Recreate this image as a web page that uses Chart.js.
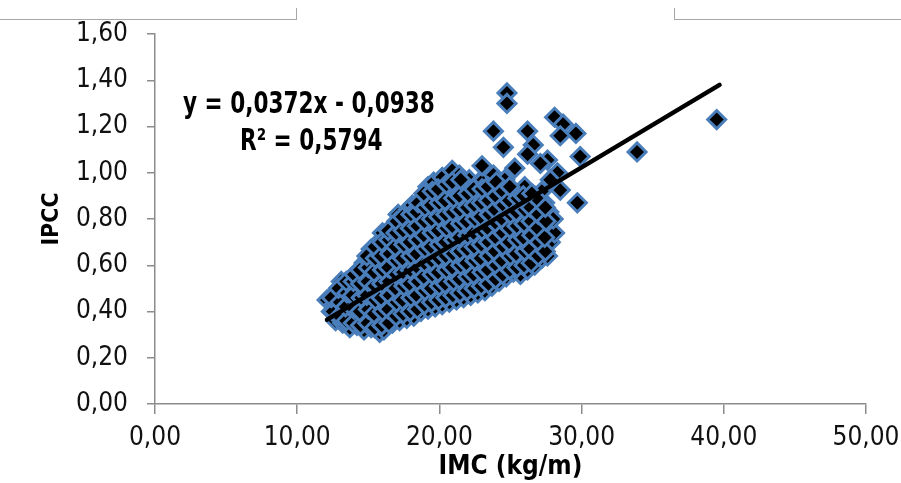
<!DOCTYPE html>
<html>
<head>
<meta charset="utf-8">
<script src="https://cdn.jsdelivr.net/npm/chart.js@4"></script>
<style>
  body { margin: 0; background: #fff; }
  #wrap { position: relative; width: 901px; height: 483px; overflow: hidden; }
  .frame { position: absolute; border-color: #a6a6a6; border-style: solid; border-width: 0; }
  .eq { position: absolute; font-family: "Liberation Sans Narrow", "DejaVu Sans Condensed", sans-serif;
        font-weight: bold; font-size: 30px; line-height: 30px; color: #000; white-space: nowrap;
        transform: scaleX(0.8); transform-origin: left center; }
</style>
</head>
<body>
<div id="wrap">
  <canvas id="imcChart"></canvas>
  <!-- bordas da tabela cortada no topo -->
  <div class="frame" style="left:0;top:8px;width:296px;height:11px;border-bottom-width:1px;border-right-width:1px;"></div>
  <div class="frame" style="left:674px;top:8px;width:227px;height:11px;border-bottom-width:1px;border-left-width:1px;"></div>
  <div class="eq" style="left:183px;top:88px;">y = 0,0372x - 0,0938</div>
  <div class="eq" style="left:240px;top:125px;">R² = 0,5794</div>
</div>
<script>
// IMC (kg/m) x IPCC
const imc = [
  12.1, 12.4,
  12.7, 12.6, 12.9,
  13.2, 13.0, 13.3, 13.1,
  13.7, 13.5, 13.8, 13.6, 13.9,
  14.2, 14.0, 14.3, 14.1, 14.4,
  14.7, 14.5, 14.8, 14.6, 14.9, 14.7,
  15.2, 15.0, 15.3, 15.1, 15.4, 15.0, 15.2,
  15.8, 15.6, 15.9, 15.7, 15.5, 15.8, 15.6, 15.9,
  16.1, 16.3, 16.0, 16.2, 16.4, 16.1, 16.3, 16.0,
  16.7, 16.5, 16.8, 16.6, 16.9, 16.7, 16.5, 16.8,
  17.2, 17.0, 17.3, 17.1, 17.4, 17.2, 17.0, 17.3, 17.1,
  17.7, 17.9, 17.6, 17.8, 17.5, 17.7, 17.9, 17.6, 17.8,
  18.2, 18.0, 18.3, 18.1, 18.4, 18.2, 18.0, 18.3, 18.1,
  18.7, 18.9, 18.6, 18.8, 18.5, 18.7, 18.9, 18.6, 18.8,
  19.2, 19.0, 19.3, 19.1, 19.4, 19.2, 19.0, 19.3, 19.1, 19.2,
  19.7, 19.9, 19.6, 19.8, 19.5, 19.7, 19.9, 19.6, 19.8, 19.6,
  20.2, 20.0, 20.3, 20.1, 20.4, 20.2, 20.0, 20.3, 20.1, 20.2,
  20.7, 20.9, 20.6, 20.8, 20.5, 20.7, 20.9, 20.6, 20.8, 20.9,
  21.2, 21.0, 21.3, 21.1, 21.4, 21.2, 21.0, 21.3, 21.1, 21.4,
  21.7, 21.9, 21.6, 21.8, 21.5, 21.7, 21.9, 21.6, 21.8,
  22.2, 22.0, 22.3, 22.1, 22.4, 22.2, 22.0, 22.3, 22.1,
  22.7, 22.9, 22.6, 22.8, 22.5, 22.7, 22.9, 22.6, 22.8,
  23.2, 23.0, 23.3, 23.1, 23.4, 23.2, 23.0, 23.3, 23.1,
  23.7, 23.9, 23.6, 23.8, 23.5, 23.7, 23.9, 23.6, 23.8,
  24.2, 24.0, 24.3, 24.1, 24.4, 24.2, 24.0, 24.3,
  24.7, 24.9, 24.6, 24.8, 24.5, 24.7, 24.9, 24.6,
  25.2, 25.0, 25.3, 25.1, 25.4, 25.2, 25.0,
  25.7, 25.9, 25.6, 25.8, 25.5, 25.7, 25.9,
  26.2, 26.0, 26.3, 26.1, 26.4, 26.2, 26.0,
  26.7, 26.9, 26.6, 26.8, 26.5, 26.7,
  27.2, 27.0, 27.3, 27.1, 27.4, 27.2,
  27.6, 27.8, 27.5, 27.7,
  28.1, 28.0,
  // pontos intermediários
  12.5, 12.4,
  12.95, 13.0, 12.9,
  13.45, 13.4, 13.5, 13.45,
  13.95, 14.0, 13.9, 13.95, 14.0,
  14.45, 14.4, 14.5, 14.45, 14.4,
  14.95, 15.0, 14.9, 14.95, 15.0, 14.9,
  15.45, 15.4, 15.5, 15.45, 15.4, 15.5, 15.45,
  15.95, 16.0, 15.9, 15.95, 16.0, 15.9, 15.95,
  16.45, 16.4, 16.5, 16.45, 16.4, 16.5, 16.45, 16.4,
  16.95, 17.0, 16.9, 16.95, 17.0, 16.9, 16.95, 17.0,
  17.45, 17.4, 17.5, 17.45, 17.4, 17.5, 17.45, 17.4,
  17.95, 18.0, 17.9, 17.95, 18.0, 17.9, 17.95, 18.0,
  18.45, 18.4, 18.5, 18.45, 18.4, 18.5, 18.45, 18.4, 18.5,
  18.95, 19.0, 18.9, 18.95, 19.0, 18.9, 18.95, 19.0, 18.9,
  19.45, 19.4, 19.5, 19.45, 19.4, 19.5, 19.45, 19.4, 19.5,
  19.95, 20.0, 19.9, 19.95, 20.0, 19.9, 19.95, 20.0, 19.9,
  20.45, 20.4, 20.5, 20.45, 20.4, 20.5, 20.45, 20.4, 20.5,
  20.95, 21.0, 20.9, 20.95, 21.0, 20.9, 20.95, 21.0, 20.9,
  21.45, 21.4, 21.5, 21.45, 21.4, 21.5, 21.45, 21.4, 21.5,
  21.95, 22.0, 21.9, 21.95, 22.0, 21.9, 21.95, 22.0,
  22.45, 22.4, 22.5, 22.45, 22.4, 22.5, 22.45, 22.4,
  22.95, 23.0, 22.9, 22.95, 23.0, 22.9, 22.95, 23.0,
  23.45, 23.4, 23.5, 23.45, 23.4, 23.5, 23.45, 23.4,
  23.95, 24.0, 23.9, 23.95, 24.0, 23.9, 23.95, 24.0,
  24.45, 24.4, 24.5, 24.45, 24.4, 24.5, 24.45,
  24.95, 25.0, 24.9, 24.95, 25.0, 24.9, 24.95,
  25.45, 25.4, 25.5, 25.45, 25.4, 25.5,
  25.95, 26.0, 25.9, 25.95, 26.0, 25.9,
  26.45, 26.4, 26.5, 26.45, 26.4, 26.5,
  26.95, 27.0, 26.9, 26.95, 27.0,
  27.45, 27.4, 27.5, 27.45,
  // pontos afastados
  24.75, 24.75, 23.8, 24.5, 26.2, 26.6, 26.2, 28.1, 28.7, 29.6, 28.5,
  27.6, 29.9, 29.7, 28.5, 27.1, 28.3, 27.8, 25.3, 23.0, 33.9, 39.5
];
const ipcc = [
  0.45, 0.40,
  0.36, 0.43, 0.49,
  0.35, 0.41, 0.47, 0.53,
  0.33, 0.38, 0.44, 0.50, 0.55,
  0.34, 0.39, 0.45, 0.52, 0.58,
  0.32, 0.37, 0.42, 0.48, 0.55, 0.61,
  0.33, 0.39, 0.45, 0.51, 0.57, 0.63, 0.67,
  0.31, 0.36, 0.42, 0.48, 0.54, 0.60, 0.66, 0.71,
  0.32, 0.38, 0.44, 0.50, 0.56, 0.62, 0.68, 0.74,
  0.35, 0.41, 0.46, 0.52, 0.58, 0.64, 0.70, 0.76,
  0.36, 0.42, 0.48, 0.54, 0.60, 0.66, 0.72, 0.78, 0.82,
  0.37, 0.43, 0.49, 0.55, 0.61, 0.67, 0.73, 0.79, 0.84,
  0.38, 0.44, 0.50, 0.56, 0.62, 0.68, 0.74, 0.80, 0.86,
  0.40, 0.46, 0.52, 0.58, 0.64, 0.70, 0.76, 0.82, 0.88,
  0.41, 0.47, 0.53, 0.59, 0.65, 0.71, 0.77, 0.83, 0.89, 0.94,
  0.42, 0.48, 0.54, 0.60, 0.66, 0.72, 0.78, 0.84, 0.90, 0.96,
  0.43, 0.49, 0.55, 0.61, 0.67, 0.73, 0.79, 0.85, 0.91, 0.98,
  0.44, 0.50, 0.56, 0.62, 0.68, 0.74, 0.80, 0.86, 0.93, 1.01,
  0.45, 0.51, 0.57, 0.63, 0.69, 0.75, 0.81, 0.87, 0.93, 0.99,
  0.46, 0.52, 0.58, 0.64, 0.70, 0.76, 0.82, 0.88, 0.95,
  0.47, 0.53, 0.59, 0.65, 0.71, 0.77, 0.83, 0.89, 0.97,
  0.48, 0.54, 0.60, 0.66, 0.72, 0.78, 0.84, 0.90, 0.96,
  0.49, 0.55, 0.61, 0.67, 0.73, 0.79, 0.85, 0.91, 0.97,
  0.51, 0.57, 0.63, 0.69, 0.75, 0.81, 0.87, 0.93, 0.99,
  0.53, 0.59, 0.65, 0.71, 0.77, 0.83, 0.89, 0.95,
  0.55, 0.61, 0.67, 0.73, 0.79, 0.85, 0.91, 0.97,
  0.57, 0.63, 0.69, 0.75, 0.81, 0.87, 0.93,
  0.56, 0.62, 0.68, 0.74, 0.80, 0.86, 0.92,
  0.58, 0.64, 0.70, 0.76, 0.82, 0.88, 0.94,
  0.60, 0.66, 0.72, 0.78, 0.84, 0.90,
  0.63, 0.69, 0.75, 0.81, 0.87, 0.92,
  0.64, 0.70, 0.77, 0.83,
  0.74, 0.80,
  // pontos intermediários
  0.40, 0.46,
  0.38, 0.44, 0.50,
  0.36, 0.42, 0.48, 0.53,
  0.35, 0.41, 0.47, 0.53, 0.56,
  0.34, 0.40, 0.46, 0.52, 0.58,
  0.35, 0.41, 0.47, 0.53, 0.59, 0.64,
  0.33, 0.39, 0.45, 0.51, 0.57, 0.63, 0.68,
  0.34, 0.40, 0.46, 0.52, 0.58, 0.64, 0.70,
  0.35, 0.41, 0.47, 0.53, 0.59, 0.65, 0.71, 0.75,
  0.38, 0.44, 0.50, 0.56, 0.62, 0.68, 0.74, 0.79,
  0.39, 0.45, 0.51, 0.57, 0.63, 0.69, 0.75, 0.81,
  0.40, 0.46, 0.52, 0.58, 0.64, 0.70, 0.76, 0.82,
  0.41, 0.47, 0.53, 0.59, 0.65, 0.71, 0.77, 0.83, 0.87,
  0.43, 0.49, 0.55, 0.61, 0.67, 0.73, 0.79, 0.85, 0.91,
  0.44, 0.50, 0.56, 0.62, 0.68, 0.74, 0.80, 0.86, 0.92,
  0.45, 0.51, 0.57, 0.63, 0.69, 0.75, 0.81, 0.87, 0.93,
  0.46, 0.52, 0.58, 0.64, 0.70, 0.76, 0.82, 0.88, 0.95,
  0.47, 0.53, 0.59, 0.65, 0.71, 0.77, 0.83, 0.89, 0.96,
  0.48, 0.54, 0.60, 0.66, 0.72, 0.78, 0.84, 0.90, 0.97,
  0.49, 0.55, 0.61, 0.67, 0.73, 0.79, 0.85, 0.91,
  0.50, 0.56, 0.62, 0.68, 0.74, 0.80, 0.86, 0.93,
  0.51, 0.57, 0.63, 0.69, 0.75, 0.81, 0.87, 0.93,
  0.52, 0.58, 0.64, 0.70, 0.76, 0.82, 0.88, 0.94,
  0.54, 0.60, 0.66, 0.72, 0.78, 0.84, 0.90, 0.96,
  0.56, 0.62, 0.68, 0.74, 0.80, 0.86, 0.92,
  0.58, 0.64, 0.70, 0.76, 0.82, 0.88, 0.94,
  0.59, 0.65, 0.71, 0.77, 0.83, 0.89,
  0.60, 0.66, 0.72, 0.78, 0.84, 0.90,
  0.61, 0.67, 0.73, 0.79, 0.85, 0.91,
  0.64, 0.70, 0.76, 0.82, 0.88,
  0.66, 0.72, 0.79, 0.85,
  // pontos afastados
  1.345, 1.30, 1.18, 1.11, 1.18, 1.12, 1.08, 1.24, 1.21, 1.17, 1.16,
  1.055, 1.07, 0.87, 0.925, 1.04, 1.00, 0.97, 1.02, 1.03, 1.09, 1.23
];

// linha de tendência (extremos)
const trendX = [12.1, 39.7];
const trendY = [0.365, 1.38];

const xTickLabels = ['0,00', '10,00', '20,00', '30,00', '40,00', '50,00'];
const yTickLabels = ['0,00', '0,20', '0,40', '0,60', '0,80', '1,00', '1,20', '1,40', '1,60'];

const narrow = '"Liberation Sans Narrow", "DejaVu Sans Condensed", sans-serif';
const axisGray = '#8c8c8c';

const points = imc.map((x, i) => ({ x: x, y: ipcc[i] }));
const trend = trendX.map((x, i) => ({ x: x, y: trendY[i] }));

const ctx = document.getElementById('imcChart').getContext('2d');
new Chart(ctx, {
    type: 'scatter',
    data: {
        datasets: [
            {
                label: 'Tendência',
                data: trend,
                showLine: true,
                borderColor: '#000',
                borderWidth: 4.5,
                borderCapStyle: 'round',
                pointRadius: 0,
                order: 0
            },
            {
                label: 'IPCC',
                data: points,
                pointStyle: 'rectRot',
                pointRadius: 9,
                pointBorderWidth: 3,
                backgroundColor: '#000',
                borderColor: '#4a7ebb',
                order: 1
            }
        ]
    },
    options: {
        responsive: true,
        maintainAspectRatio: false,
        animation: false,
        layout: { padding: { top: 34, right: 35, left: 0, bottom: 0 } },
        plugins: {
            legend: { display: false },
            tooltip: { enabled: false }
        },
        scales: {
            x: {
                type: 'linear',
                min: 0,
                max: 50,
                ticks: {
                    stepSize: 10,
                    padding: 9,
                    color: '#111',
                    font: { family: narrow, size: 26 },
                    callback: (v, i) => xTickLabels[i]
                },
                grid: { drawOnChartArea: false, drawTicks: true, tickLength: 10, color: axisGray, lineWidth: 1.5 },
                border: { color: axisGray, width: 1.5 },
                title: {
                    display: true,
                    text: 'IMC (kg/m)',
                    color: '#000',
                    padding: { top: 0, bottom: 0 },
                    font: { family: narrow, size: 26, weight: 'bold' }
                },
                afterFit: scale => {
                    scale.height = 79;
                    scale.paddingLeft = 0;
                    scale.paddingRight = 0;
                }
            },
            y: {
                min: 0,
                max: 1.6,
                ticks: {
                    stepSize: 0.2,
                    padding: 19,
                    color: '#111',
                    font: { family: narrow, size: 26 },
                    callback: (v, i) => yTickLabels[i]
                },
                grid: { drawOnChartArea: false, drawTicks: true, tickLength: 8, color: axisGray, lineWidth: 1.5 },
                border: { color: axisGray, width: 1.5 },
                title: {
                    display: true,
                    text: 'IPCC',
                    color: '#000',
                    padding: { top: 38, bottom: 0 },
                    font: { family: narrow, size: 23, weight: 'bold' }
                },
                afterFit: scale => {
                    scale.width = 155;
                    scale.paddingTop = 0;
                    scale.paddingBottom = 0;
                }
            }
        }
    }
});
</script>
</body>
</html>
